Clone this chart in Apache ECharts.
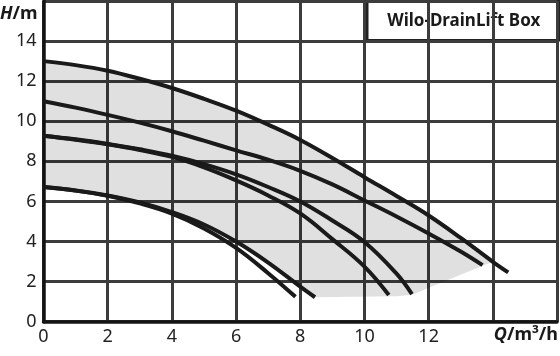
<!DOCTYPE html>
<html>
<head>
<meta charset="utf-8">
<script src="https://cdn.jsdelivr.net/npm/echarts@6/dist/echarts.min.js"></script>
<style>html,body{margin:0;padding:0;background:#fff}#c{width:560px;height:356px}</style>
</head>
<body>
<div id="c"></div>
<script>
// ---- data (Q in m³/h, H in m) ----
const xTickLabels = [0, 2, 4, 6, 8, 10, 12];
const yTickLabels = [0, 2, 4, 6, 8, 10, 12, 14];
const curveMax = [[0,13.0],[1,12.8],[2,12.52],[3,12.12],[4,11.66],[5,11.12],[6,10.53],[7,9.83],[8,9.07],[9,8.17],[10,7.21],[11,6.27],[12,5.3],[13,4.18],[14,2.99],[14.48,2.46]];
const curve2   = [[0,11.0],[1,10.68],[2,10.32],[3,9.93],[4,9.5],[5,9.03],[6,8.55],[7,8.08],[8,7.53],[9,6.85],[10,6.05],[11,5.25],[12,4.4],[13,3.5],[13.68,2.82]];
const curve3a  = [[0,9.28],[1,9.1],[2,8.87],[3,8.6],[4,8.28],[5,7.86],[6,7.35],[7,6.72],[8,6.0],[9,5.05],[10,3.98],[11,2.4],[11.48,1.38]];
const curve3b  = [[0,9.28],[1,9.08],[2,8.85],[3,8.57],[4,8.22],[5,7.7],[6,7.05],[7,6.3],[8,5.4],[9,4.12],[10,2.75],[10.76,1.33]];
const curve4a  = [[0,6.72],[1,6.55],[2,6.3],[3,5.95],[4,5.47],[5,4.85],[6,4.0],[7,2.95],[8,1.75],[8.46,1.22]];
const curve4b  = [[0,6.72],[1,6.54],[2,6.28],[3,5.9],[4,5.39],[5,4.65],[6,3.68],[7,2.42],[7.85,1.24]];
const shadeTop  = [[0,13.0],[1,12.8],[2,12.52],[3,12.12],[4,11.66],[5,11.12],[6,10.53],[7,9.83],[8,9.07],[9,8.17],[10,7.21],[11,6.27],[12,5.3],[13,4.18],[14,2.99]];
const shadeLow  = [[12,1.7],[11.5,1.35],[11,1.27],[8.46,1.22]];
const shadeLeft = [[8,1.75],[7,2.95],[6,4.0],[5,4.85],[4,5.47],[3,5.95],[2,6.3],[1,6.55],[0,6.72]];
const titleText = 'Wilo-DrainLift Box';

const FONT = '"Noto Sans", "Open Sans", sans-serif';
const chart = echarts.init(document.getElementById('c'), null, {renderer: 'canvas'});

const lineSeries = [curveMax, curve2, curve3a, curve3b, curve4a, curve4b].map(d => ({
  type: 'line',
  data: d,
  smooth: 0.4,
  showSymbol: false,
  symbol: 'none',
  z: 5,
  lineStyle: {color: '#1a1a1a', width: 4},
  silent: true,
  animation: false
}));

const shadePoly = shadeTop.concat(shadeLow, shadeLeft);

const option = {
  animation: false,
  grid: {left: 43.5, top: 1, width: 517.1, height: 320.7, containLabel: false},
  xAxis: {
    type: 'value', min: 0, max: 16, interval: 2,
    axisLine: {show: true, onZero: false, lineStyle: {color: '#141414', width: 3.5}},
    axisTick: {show: false},
    splitLine: {show: true, lineStyle: {color: '#3c3c3c', width: 3}},
    axisLabel: {
      margin: 6, fontSize: 18, color: '#222', fontFamily: FONT,
      formatter: v => xTickLabels.indexOf(v) >= 0 ? String(v) : ''
    }
  },
  yAxis: {
    type: 'value', min: 0, max: 16, interval: 2,
    axisLine: {show: true, onZero: false, lineStyle: {color: '#141414', width: 3.5}},
    axisTick: {show: false},
    splitLine: {show: true, lineStyle: {color: '#3c3c3c', width: 3}},
    axisLabel: {
      margin: 7, fontSize: 18, color: '#222', fontFamily: FONT,
      formatter: v => yTickLabels.indexOf(v) >= 0 ? String(v) : ''
    }
  },
  series: [{
    type: 'custom',
    z: 2,
    silent: true,
    data: [[0, 0]],
    renderItem: function (params, api) {
      const pts = shadePoly.map(p => api.coord(p));
      return {type: 'polygon', shape: {points: pts}, style: {fill: 'rgba(0,0,0,0.12)', stroke: null}};
    }
  }].concat(lineSeries),
  graphic: [
    {
      type: 'text', left: 0, top: 5, z: 10,
      style: {
        text: '{i|H}{b|/m}',
        rich: {
          i: {fontStyle: 'italic', fontWeight: 'bold', fontSize: 18, fontFamily: FONT, fill: '#1a1a1a'},
          b: {fontWeight: 'bold', fontSize: 18, fontFamily: FONT, fill: '#1a1a1a'}
        }
      }
    },
    {
      type: 'text', right: 2, top: 326, z: 10,
      style: {
        text: '{i|Q}{b|/m³/h}',
        rich: {
          i: {fontStyle: 'italic', fontWeight: 'bold', fontSize: 18, fontFamily: FONT, fill: '#1a1a1a'},
          b: {fontWeight: 'bold', fontSize: 18, fontFamily: FONT, fill: '#1a1a1a'}
        }
      }
    },
    {
      type: 'group', left: 366, top: 0, z: 10,
      children: [
        {type: 'rect', shape: {x: 0, y: 0, width: 193, height: 39},
         style: {fill: '#fff', stroke: '#222', lineWidth: 2.5}},
        {type: 'text', x: 96.5, y: 20,
         style: {text: titleText, align: 'center', verticalAlign: 'middle',
                 fontSize: 17, fontWeight: 'bold', fontFamily: FONT, fill: '#1a1a1a'}}
      ]
    }
  ]
};
chart.setOption(option);
</script>
</body>
</html>
